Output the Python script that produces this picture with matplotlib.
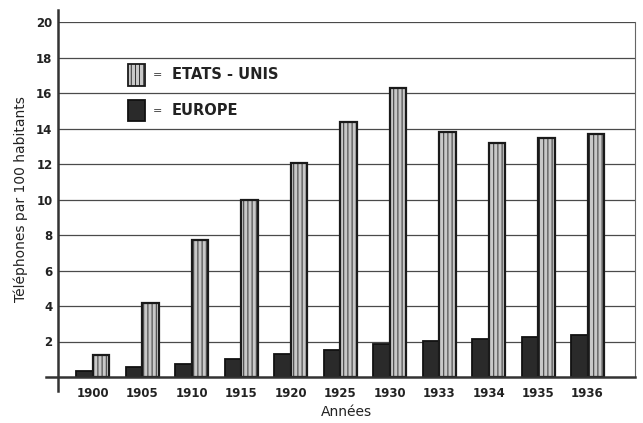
import matplotlib.pyplot as plt
from matplotlib.patches import Rectangle

annees = ['1900', '1905', '1910', '1915', '1920', '1925', '1930', '1933', '1934', '1935', '1936']
europe = [0.34, 0.54, 0.73, 0.99, 1.27, 1.54, 1.84, 2.05, 2.14, 2.27, 2.35]
etats_unis = [1.25, 4.17, 7.72, 10.0, 12.08, 14.35, 16.28, 13.78, 13.18, 13.48, 13.67]
yticks = [2, 4, 6, 8, 10, 12, 14, 16, 18, 20]

plt.rcParams['hatch.color'] = '#8c8c8c'
plt.rcParams['hatch.linewidth'] = 0.6

fig = plt.figure(figsize=(6.43, 4.23), dpi=100)
ax = fig.add_axes([58 / 643, 1 - 377 / 423, 577 / 643, 355 / 423])

w = 0.333
x = list(range(len(annees)))
ax.bar([i - w / 2 for i in x], europe, width=w, color='#2a2a2a',
       edgecolor='#111111', linewidth=1.3, zorder=3)
ax.bar([i + w / 2 for i in x], etats_unis, width=w, color='#c8c8c8',
       edgecolor='#1a1a1a', linewidth=1.6, hatch='||||', zorder=3)

ax.set_xlim(-0.707, 10.96)
ax.set_ylim(0, 20)
ax.set_yticks(yticks)
ax.set_yticklabels([str(v) for v in yticks], fontsize=8.5, color='#222222',
                   fontweight='semibold')
ax.set_xticks(x)
ax.set_xticklabels(annees, fontsize=8.5, color='#222222', fontweight='semibold')
ax.tick_params(axis='y', length=0, pad=4)
ax.tick_params(axis='x', length=0, pad=7)
ax.yaxis.grid(True, color='#4a4a4a', linewidth=0.9, zorder=0)

for s in ['top', 'left', 'bottom']:
    ax.spines[s].set_visible(False)
ax.spines['right'].set_color('#666666')
ax.spines['right'].set_linewidth(0.8)

# axis lines extending past the frame, as in the original drawing
ax.plot([0, 0], [-0.04, 1.035], transform=ax.transAxes, color='#333333',
        linewidth=1.8, clip_on=False, zorder=4)
ax.plot([-0.02, 1.0], [0, 0], transform=ax.transAxes, color='#333333',
        linewidth=1.8, clip_on=False, zorder=4)

ax.set_ylabel('Téléphones par 100 habitants', fontsize=10, color='#222222', labelpad=6)
ax.set_xlabel('Années', fontsize=10, color='#222222', labelpad=4)

# legend
ax.add_patch(Rectangle((0.121, 0.82), 0.03, 0.062, transform=ax.transAxes,
                       facecolor='#c8c8c8', edgecolor='#1a1a1a', hatch='||||',
                       linewidth=1.3, zorder=5))
ax.add_patch(Rectangle((0.121, 0.721), 0.03, 0.059, transform=ax.transAxes,
                       facecolor='#2a2a2a', edgecolor='#111111',
                       linewidth=1.3, zorder=5))
ax.text(0.165, 0.851, '=', transform=ax.transAxes, fontsize=8, va='center', color='#333333')
ax.text(0.197, 0.851, 'ETATS - UNIS', transform=ax.transAxes, fontsize=10.5,
        fontweight='bold', va='center', color='#222222')
ax.text(0.165, 0.75, '=', transform=ax.transAxes, fontsize=8, va='center', color='#333333')
ax.text(0.197, 0.75, 'EUROPE', transform=ax.transAxes, fontsize=10.5,
        fontweight='bold', va='center', color='#222222')

fig.savefig('out.png', dpi=100)
